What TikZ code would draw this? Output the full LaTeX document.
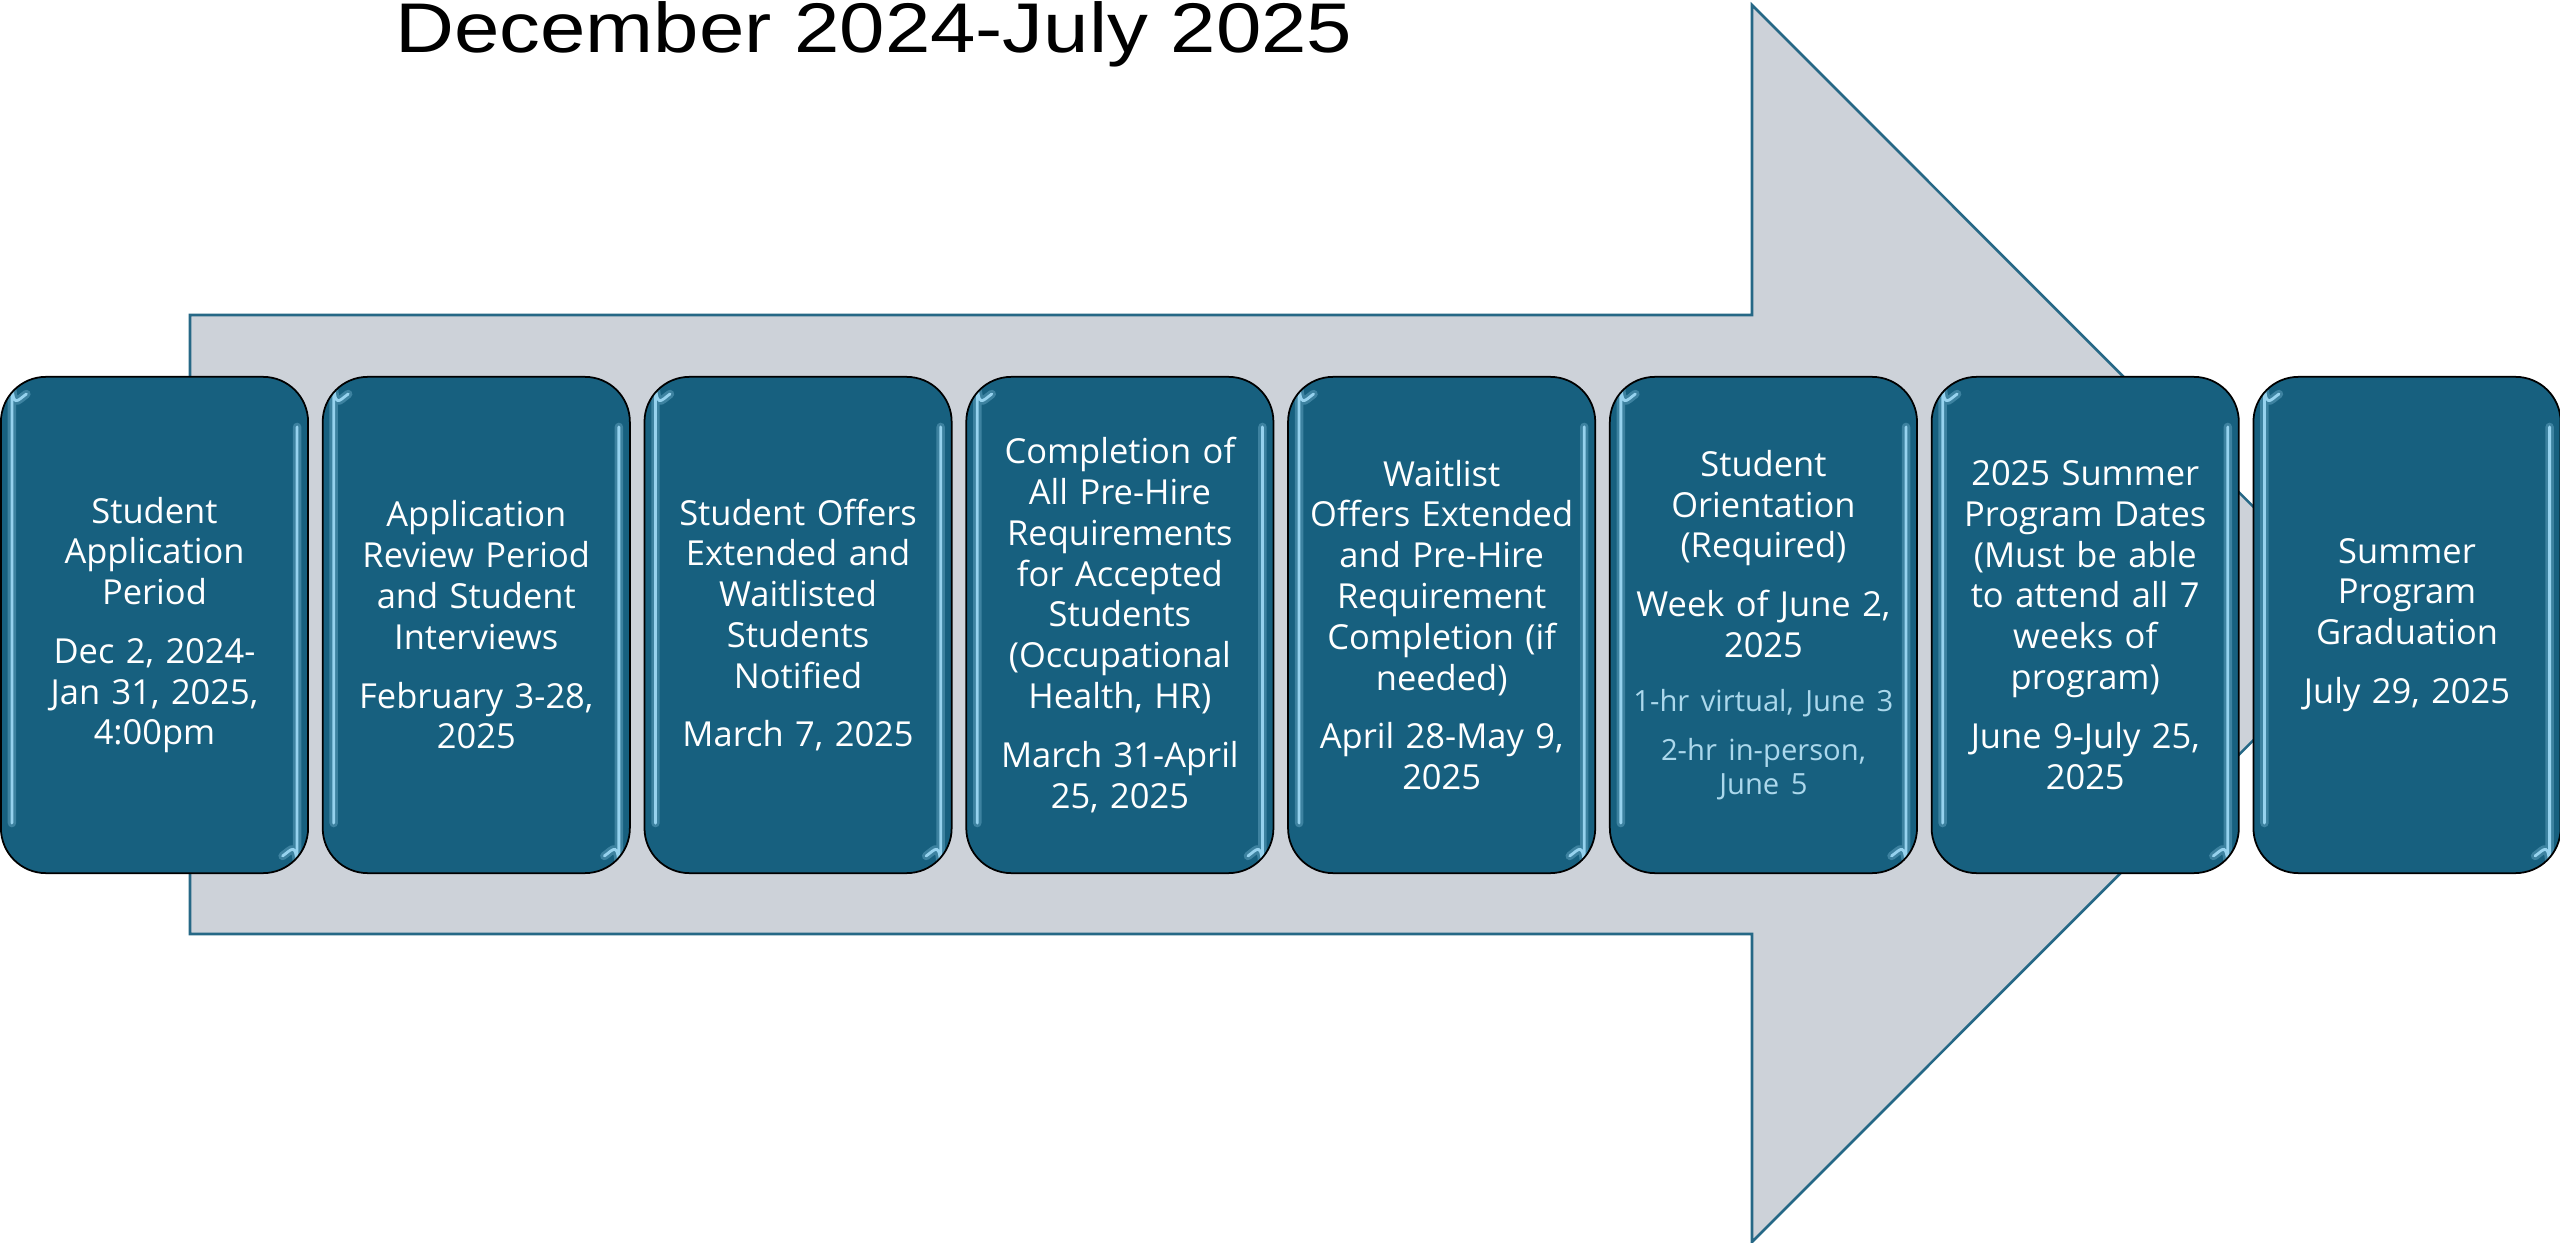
\documentclass[tikz,border=0pt]{standalone}
\usepackage{graphicx}
\usepackage{fontspec}
\setmainfont{Open Sans}
\newfontfamily\titlefont{Liberation Sans}
\usetikzlibrary{positioning}
\definecolor{boxblue}{RGB}{23,96,127}
\definecolor{shine}{RGB}{150,210,238}
\definecolor{arrowgray}{RGB}{205,210,217}
\definecolor{arrowline}{RGB}{38,104,134}
\definecolor{notetext}{RGB}{172,216,236}
\newcommand{\notefont}{\color{notetext}\fontsize{8.3}{9.7}\selectfont}
\tikzset{every node/.style={align=center}, font=\fontsize{9.8}{11.6}\selectfont,
  glow/.style={shine, line width=2.4pt, opacity=0.3, line cap=round},
  gleam/.style={shine, line width=0.8pt, line cap=round},
  stage/.style={draw=black, line width=0.5pt, fill=boxblue, rounded corners=0.45cm,
    minimum width=3.07cm, minimum height=4.96cm, text width=2.95cm, inner sep=0pt, text=white,
    path picture={
      \foreach \s in {glow,gleam} {
        \draw[\s] ([xshift=0.11cm,yshift=0.5cm]path picture bounding box.south west)
          -- ([xshift=0.11cm,yshift=-0.45cm]path picture bounding box.north west)
          arc[start angle=180, end angle=125, radius=0.34cm];
        \draw[\s] ([xshift=-0.11cm,yshift=-0.5cm]path picture bounding box.north east)
          -- ([xshift=-0.11cm,yshift=0.45cm]path picture bounding box.south east)
          arc[start angle=0, end angle=-55, radius=0.34cm];
      }
    }}}

\begin{document}
\begin{tikzpicture}[x=0.01cm, y=-0.01cm, node distance=3.216cm]
  \useasboundingbox (0,0) rectangle (2560,1243);
  % big arrow behind the steps
  \draw[fill=arrowgray, draw=arrowline, line width=0.75pt, line join=miter]
    (190,315) -- (1752,315) -- (1752,5) -- (2370,623.5) -- (1752,1242) -- (1752,934) -- (190,934) -- cycle;
  \node[anchor=base west, font=\titlefont\fontsize{20}{24}\selectfont] (title) at (383,53)
    {\scalebox{1.16}[1]{December 2024-July 2025}};
  % steps
  \node[stage] (s1) at (154.5,625) {Student\\ Application\\ Period\\[5.1pt] Dec 2, 2024-\\ Jan 31, 2025,\\ 4:00pm};
  \node[stage] (s2) [right of = s1] {Application\\ Review Period\\ and Student\\ Interviews\\[5.1pt] February 3-28,\\ 2025};
  \node[stage] (s3) [right of = s2] {Student Offers\\ Extended and\\ Waitlisted\\ Students\\ Notified\\[5.1pt] March 7, 2025};
  \node[stage] (s4) [right of = s3] {Completion of\\ All Pre-Hire\\ Requirements\\ for Accepted\\ Students\\ (Occupational\\ Health, HR)\\[5.1pt] March 31-April\\ 25, 2025};
  \node[stage] (s5) [right of = s4] {Waitlist\\ Offers Extended\\ and Pre-Hire\\ Requirement\\ Completion (if\\ needed)\\[5.1pt] April 28-May 9,\\ 2025};
  \node[stage] (s6) [right of = s5] {Student\\ Orientation\\ (Required)\\[5.1pt] Week of June 2,\\ 2025\\[3.7pt]
    {\notefont 1-hr virtual, June 3}\\[2.3pt] {\notefont 2-hr in-person,}\\[-1.85pt] {\notefont June 5}};
  \node[stage] (s7) [right of = s6] {2025 Summer\\ Program Dates\\ (Must be able\\ to attend all 7\\ weeks of\\ program)\\[5.1pt] June 9-July 25,\\ 2025};
  \node[stage] (s8) [right of = s7] {Summer\\ Program\\ Graduation\\[5.1pt] July 29, 2025};
\end{tikzpicture}
\end{document}
